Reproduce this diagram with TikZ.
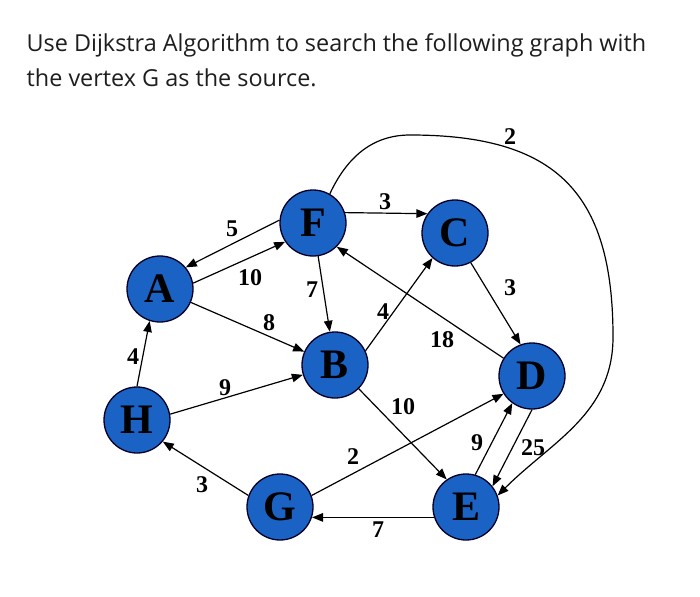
\documentclass[tikz,border=0pt]{standalone}
\usepackage{fontspec}
\setmainfont{Liberation Serif}
\newfontfamily\titlefont{Open Sans}
\usetikzlibrary{arrows.meta}
\definecolor{nodeblue}{HTML}{1A62C4}
\definecolor{titlegray}{HTML}{1E1E1E}
\tikzset{
  vertex/.style={circle, draw=black!85!blue, line width=1.3pt, fill=nodeblue,
    minimum size=66pt, inner sep=0pt, font=\fontsize{42}{42}\selectfont\bfseries},
  edge/.style={line width=1.2pt, -{Triangle[length=11pt,width=8.5pt]}},
  wlabel/.style={font=\fontsize{24}{24}\selectfont\bfseries, inner sep=0pt},
  titletext/.style={anchor=base west, inner sep=0pt, text=titlegray,
    font=\titlefont\fontsize{23.4}{23.4}\selectfont}
}
\begin{document}
\begin{tikzpicture}[x=1pt,y=-1pt]
\useasboundingbox (0,0) rectangle (700,596);
\fill[white] (0,0) rectangle (700,596);

\node[titletext] (t1) at (26.5,51.7) {Use Dijkstra Algorithm to search the following graph with};
\node[titletext] (t2) at (26.5,87) {the vertex G as the source.};

\node[vertex] (F) at (313,223) {F};
\node[vertex] (A) at (160,289) {A};
\node[vertex] (B) at (335,365) {B};
\node[vertex] (H) at (137,420) {H};
\node[vertex] (G) at (280,507) {G};
\node[vertex] (C) at (455,233) {C};
\node[vertex] (D) at (532,376) {D};
\node[vertex] (E) at (466,507) {E};

\draw[edge] (F.175) -- (A.40);
\draw[edge] (A.10) -- (F.214);
\draw[edge] (F) -- (B);
\draw[edge] (A) -- (B);
\draw[edge] (H.90) -- (A.252);
\draw[edge] (H.10) -- (B.197);
\draw[edge] (G.160) -- (H.-40);
\draw[edge] (F.18) -- (C.145);
\draw[edge] (B.25) -- (C.228);
\draw[edge] (D.148) -- (F.-45);
\draw[edge] (C.-62) -- (D.110);
\draw[edge] (B.-45) -- (E.125);
\draw[edge] (G.20) -- (D.212);
\draw[edge] (E.74) -- (D.234);
\draw[edge] (D.-90) -- (E.38);
\draw[edge] (E.198) -- (G.-18);
\coordinate (top) at (410,135);
\coordinate (right) at (613,337);
\draw[edge] (F.60) to[out=65,in=180] (top) to[out=0,in=90,looseness=1.3] (right) to[out=-90,in=45] (E.20);

\node[wlabel] (w1) at (232,229) {5};
\node[wlabel] (w2) at (250,278) {10};
\node[wlabel] (w3) at (312,290) {7};
\node[wlabel] (w4) at (269,323) {8};
\node[wlabel] (w5) at (133,357) {4};
\node[wlabel] (w6) at (225,388) {9};
\node[wlabel] (w7) at (202,485) {3};
\node[wlabel] (w8) at (385,202) {3};
\node[wlabel] (w9) at (383,312) {4};
\node[wlabel] (w10) at (442,340) {18};
\node[wlabel] (w11) at (510,288) {3};
\node[wlabel] (w12) at (510,137) {2};
\node[wlabel] (w13) at (403,407) {10};
\node[wlabel] (w14) at (353,457) {2};
\node[wlabel] (w15) at (477,443) {9};
\node[wlabel] (w16) at (533,448) {25};
\node[wlabel] (w17) at (378,530) {7};
\end{tikzpicture}
\end{document}
